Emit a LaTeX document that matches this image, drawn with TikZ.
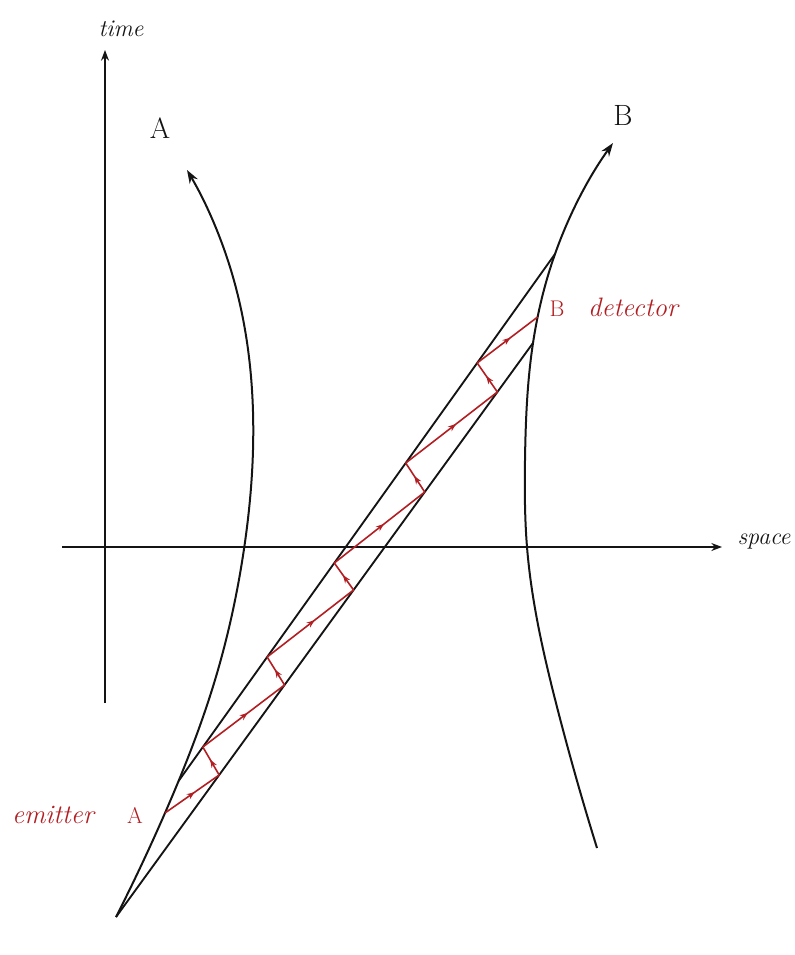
\documentclass[tikz,border=0pt]{standalone}
\usepackage{fontspec}
\usetikzlibrary{arrows.meta,decorations.markings,hobby,intersections,calc}
\definecolor{inkred}{RGB}{178,30,34}
\definecolor{ink}{RGB}{20,20,20}
\tikzset{
  axisline/.style={draw=ink, line width=1.1pt, -{Stealth[length=8pt,width=6pt]}},
  worldline/.style={draw=ink, line width=1.5pt},
  tubeline/.style={draw=ink, line width=1.4pt},
  signal/.style={draw=inkred, line width=1.2pt, postaction={decorate},
    decoration={markings, mark=at position 0.55 with {\arrow{Stealth[length=6pt,width=4.5pt]}}}},
  blacklabel/.style={text=ink, font=\fontsize{18}{20}\selectfont\itshape},
  biglabel/.style={text=ink, font=\fontsize{22}{24}\selectfont},
  redlabel/.style={text=inkred, font=\fontsize{20}{22}\selectfont\itshape},
  redcap/.style={text=inkred, font=\fontsize{17}{19}\selectfont},
}
\begin{document}
\begin{tikzpicture}[x=0.75pt,y=-0.75pt]
\useasboundingbox (0,0) rectangle (794,955);
% axes
\coordinate (t0) at (105,703);
\coordinate (t1) at (105,50);
\coordinate (s0) at (62,547);
\coordinate (s1) at (722,547);
\draw[axisline] (t0) -- (t1);
\draw[axisline] (s0) -- (s1);
\node[blacklabel] (timelbl) at (121,29) {time};
\node[blacklabel] (spacelbl) at (764,542) {space};
% world line A
\coordinate (V) at (116,917);
\draw[worldline, name path=curveA, -{Stealth[length=10pt,width=7pt]}, use Hobby shortcut]
  (V) .. (165,813) .. (215,680) .. (244,549) .. (253,450) .. (230,267) .. (187,170);
% world line B
\draw[worldline, name path=curveB, -{Stealth[length=10pt,width=7pt]}, use Hobby shortcut]
  (597,848) .. (557,707) .. (527,547) .. (525,460) .. (533,343) .. (555,254) .. (613,143);
% helper levels
\path[name path=hE] (0,813) -- (400,813);
\path[name path=hU0] (0,781) -- (400,781);
\path[name path=hL1] (400,343) -- (794,343);
\path[name path=hD] (400,317) -- (794,317);
\path[name path=hU1] (400,254) -- (794,254);
\path[name intersections={of=curveA and hE, by=E}];
\path[name intersections={of=curveA and hU0, by=U0}];
\path[name intersections={of=curveB and hL1, by=L1}];
\path[name intersections={of=curveB and hD, by=D}];
\path[name intersections={of=curveB and hU1, by=U1}];
% tube
\draw[tubeline] (V) -- (L1);
\draw[tubeline] (U0) -- (U1);
% signal points (lower line: y from 917 to 343; upper line: y from 781 to 254)
\coordinate (p1) at ($(V)!0.2474!(L1)$);
\coordinate (p2) at ($(U0)!0.0645!(U1)$);
\coordinate (p3) at ($(V)!0.4042!(L1)$);
\coordinate (p4) at ($(U0)!0.2353!(U1)$);
\coordinate (p5) at ($(V)!0.5697!(L1)$);
\coordinate (p6) at ($(U0)!0.4137!(U1)$);
\coordinate (p7) at ($(V)!0.7404!(L1)$);
\coordinate (p8) at ($(U0)!0.6034!(U1)$);
\coordinate (p9) at ($(V)!0.9146!(L1)$);
\coordinate (p10) at ($(U0)!0.7932!(U1)$);
\draw[signal] (E) -- (p1);
\draw[signal] (p1) -- (p2);
\draw[signal] (p2) -- (p3);
\draw[signal] (p3) -- (p4);
\draw[signal] (p4) -- (p5);
\draw[signal] (p5) -- (p6);
\draw[signal] (p6) -- (p7);
\draw[signal] (p7) -- (p8);
\draw[signal] (p8) -- (p9);
\draw[signal] (p9) -- (p10);
\draw[signal] (p10) -- (D);
% labels
\node[biglabel] (Albl) at (160,128) {A};
\node[biglabel] (Blbl) at (623,115) {B};
\node[redcap] (Bdet) at (557,309) {B};
\node[redlabel] (detlbl) at (633,307) {detector};
\node[redlabel] (emitlbl) at (53,815) {emitter};
\node[redcap] (Aemit) at (135,815) {A};
\end{tikzpicture}
\end{document}
